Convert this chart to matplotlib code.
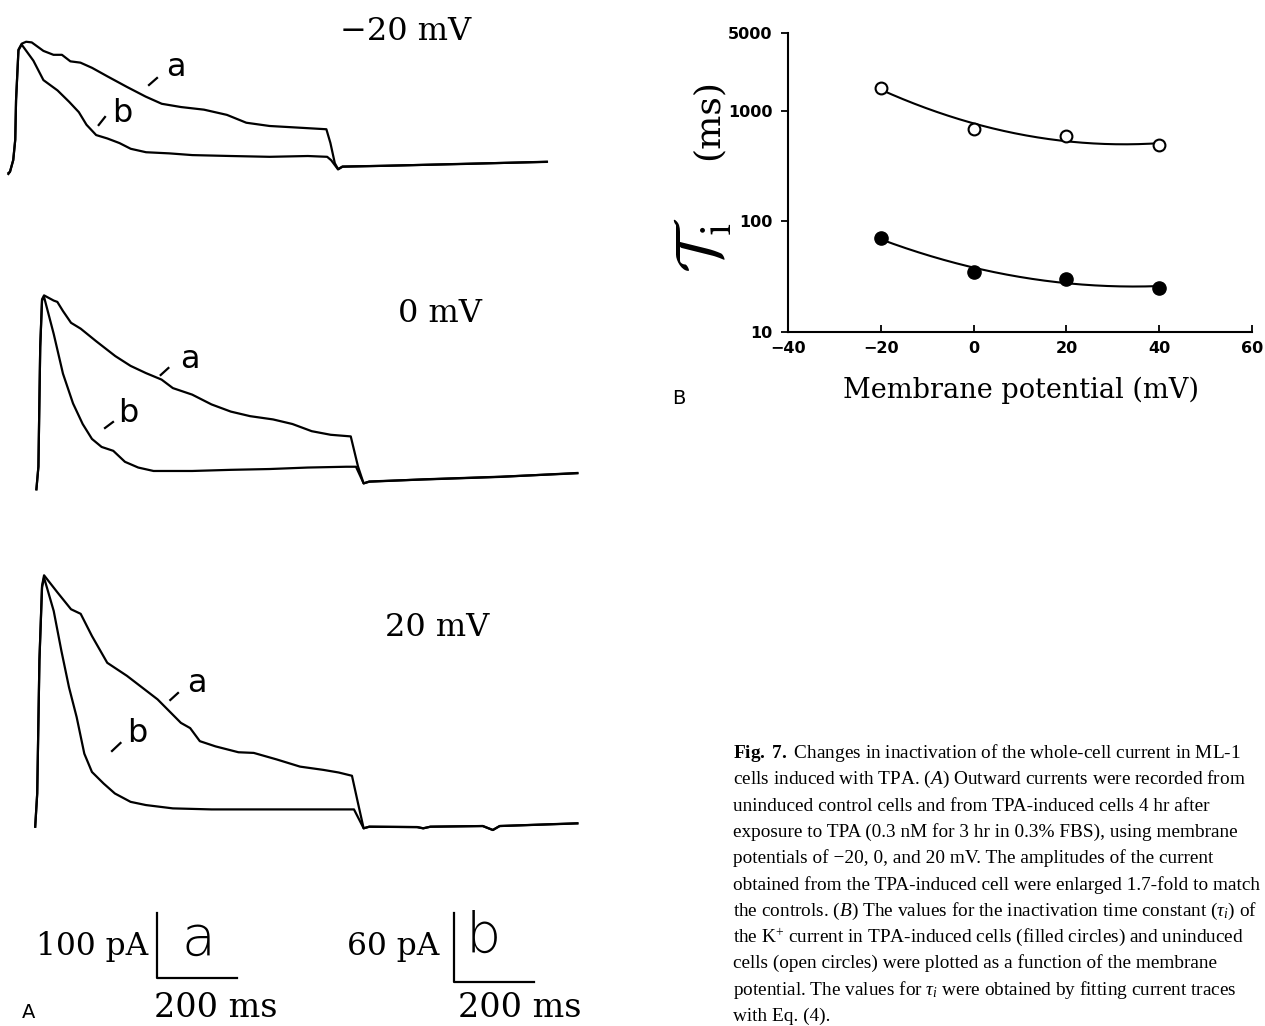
import numpy as np
import matplotlib
matplotlib.use("Agg")
import matplotlib.pyplot as plt
from matplotlib.ticker import NullLocator, FixedLocator

plt.rcParams['mathtext.fontset'] = 'custom'
plt.rcParams['mathtext.rm'] = 'Liberation Serif'
plt.rcParams['mathtext.it'] = 'Liberation Serif:italic'
plt.rcParams['mathtext.bf'] = 'Liberation Serif:bold'

# ---------------- Panel B data ----------------
membrane_potential = [-20, 0, 20, 40]          # mV
tau_uninduced = [1607, 682, 593, 488]           # ms (open circles)
tau_induced = [70.6, 34.7, 30.1, 25.1]          # ms (filled circles)
b_xticks = [-40, -20, 0, 20, 40, 60]
b_yticks = [10, 100, 1000, 5000]
b_yticklabels = ["10", "100", "1000", "5000"]

# ---------------- Panel A data (time ms, current pA) ----------------
voltage_labels = ["\u221220 mV", "0 mV", "20 mV"]

# -20 mV
t_a1 = [0, 4, 12, 17, 19, 25, 33, 44, 58, 87, 112, 133, 154, 179, 208, 246, 294, 341,
        381, 429, 486, 543, 591, 649, 706, 790, 800, 811, 819, 830, 936, 1126, 1337]
i_a1 = [-2, 0, 18, 49, 110, 187, 196, 199, 198, 185, 179, 179, 169, 167, 159, 146, 130, 115,
        104, 99, 95, 87, 75, 70, 68, 65, 44, 13, 4, 8, 9, 12, 15]
t_b1 = [0, 4, 12, 17, 19, 25, 33, 62, 87, 122, 151, 175, 194, 218, 246, 276, 304, 342,
        400, 457, 553, 649, 744, 792, 802, 819, 830, 936, 1126, 1338]
i_b1 = [-2, 0, 10, 28, 62, 106, 111, 97, 80, 71, 61, 52, 41, 32, 29, 25, 20, 17,
        16, 14.5, 13.7, 13, 13.7, 13, 10, 2, 4.3, 5.2, 6.7, 8.7]

# 0 mV
t_a2 = [0, 5, 9.5, 14, 19, 43, 52, 66, 86, 110, 148, 196, 234, 272, 311, 339, 387, 435,
        483, 531, 588, 636, 684, 731, 781, 799, 813, 827, 961, 1153, 1344]
i_a2 = [0, 35, 219, 291, 297, 289, 287, 273, 255, 246, 227, 204, 189, 178, 168, 155, 145, 130,
        119, 112, 107, 100, 89, 83.5, 81, 35, 9, 12, 15, 19, 25]
t_b2 = [0, 5, 9.5, 14, 19, 43, 66, 91, 115, 138, 162, 191, 220, 253, 291, 387, 483, 579,
        674, 770, 794, 813, 827, 961, 1153, 1344]
i_b2 = [0, 19.7, 124, 165, 168, 135.7, 101, 75, 57, 44, 37, 33.6, 24, 19, 16, 16, 17, 17.7,
        19, 19.7, 19.7, 5.2, 6.6, 8.7, 11, 14]

# 20 mV
t_a3 = [0, 5, 10.5, 17, 22, 55, 89, 113, 141, 179, 228, 266, 304, 333, 362, 385, 409, 448,
        505, 543, 600, 658, 716, 754, 787, 802, 816, 830, 949, 964, 982, 1112, 1137, 1154, 1347]
i_a3 = [0, 51, 256, 369, 385, 359, 333, 326, 292, 251, 231, 213, 195, 177, 159, 151, 131, 123,
        114, 113, 103, 92, 87, 83, 78, 36, -2.5, 0, -0.5, -2.5, 0, 1, -5, 1, 5]
t_b3 = [0, 5, 10.5, 17, 22, 46, 65, 84, 103, 122, 141, 170, 198, 237, 275, 342, 438, 582,
        725, 792, 816, 830, 949, 964, 982, 1112, 1137, 1154, 1347]
i_b3 = [0, 29, 145, 209, 217.5, 188.4, 153.7, 121.7, 95.7, 63.8, 47.8, 37.7, 29, 21.7, 18.9,
        16, 15.1, 15.1, 15.1, 15.1, -1.4, 0, -0.4, -1.4, 0, 0.6, -2.9, 0.6, 3]

scale_time_ms = 200
scale_a_pA = 100
scale_b_pA = 60

caption_lines = [
    r"$\mathbf{Fig.\ 7.}$ Changes in inactivation of the whole-cell current in ML-1",
    r"cells induced with TPA. ($\mathit{A}$) Outward currents were recorded from",
    "uninduced control cells and from TPA-induced cells 4 hr after",
    "exposure to TPA (0.3 nM for 3 hr in 0.3% FBS), using membrane",
    "potentials of \u221220, 0, and 20 mV. The amplitudes of the current",
    "obtained from the TPA-induced cell were enlarged 1.7-fold to match",
    r"the controls. ($\mathit{B}$) The values for the inactivation time constant ($\tau_i$) of",
    r"the K$^{+}$ current in TPA-induced cells (filled circles) and uninduced",
    "cells (open circles) were plotted as a function of the membrane",
    r"potential. The values for $\tau_i$ were obtained by fitting current traces",
    "with Eq. (4).",
]

# ---------------- Layout ----------------
W, H = 1265, 1026
fig = plt.figure(figsize=(W / 100, H / 100), dpi=100)


def frect(left, top, width, height):
    return [left / W, 1 - (top + height) / H, width / W, height / H]


MS_PER_PX = 200 / 80.5
PA_PER_PX_A = 100 / 65.3
PA_PER_PX_B = 60 / 68.7
LW = 1.6

trace_sets = [
    (t_a1, i_a1, t_b1, i_b1),
    (t_a2, i_a2, t_b2, i_b2),
    (t_a3, i_a3, t_b3, i_b3),
]
panel_geom = [
    dict(x0=8.4, y0=171.7, top=15, bottom=190),
    dict(x0=36.4, y0=489.3, top=280, bottom=505),
    dict(x0=35.2, y0=826.7, top=560, bottom=845),
]
LEFT_PX, RIGHT_PX = 0, 600

for (ta, ia, tb, ib), g in zip(trace_sets, panel_geom):
    ax = fig.add_axes(frect(LEFT_PX, g['top'], RIGHT_PX - LEFT_PX, g['bottom'] - g['top']))
    ax.set_xlim(-(g['x0'] - LEFT_PX) * MS_PER_PX, (RIGHT_PX - g['x0']) * MS_PER_PX)
    ax.set_ylim(-(g['bottom'] - g['y0']) * PA_PER_PX_A, (g['y0'] - g['top']) * PA_PER_PX_A)
    ax.plot(ta, ia, color='black', lw=LW, solid_joinstyle='round')
    ax.axis('off')
    axb = ax.twinx()
    axb.set_ylim(-(g['bottom'] - g['y0']) * PA_PER_PX_B, (g['y0'] - g['top']) * PA_PER_PX_B)
    axb.plot(tb, ib, color='black', lw=LW, solid_joinstyle='round')
    axb.axis('off')

# scale bars
sa = fig.add_axes(frect(156.5, 978.3 - 65.3, 80.5, 65.3))
sa.set_xlim(0, scale_time_ms)
sa.set_ylim(0, scale_a_pA)
sa.plot([0, 0, scale_time_ms], [scale_a_pA, 0, 0], color='black', lw=1.6, clip_on=False)
sa.axis('off')
sb = fig.add_axes(frect(453.5, 981.7 - 68.7, 80.4, 68.7))
sb.set_xlim(0, scale_time_ms)
sb.set_ylim(0, scale_b_pA)
sb.plot([0, 0, scale_time_ms], [scale_b_pA, 0, 0], color='black', lw=1.6, clip_on=False)
sb.axis('off')

# ---------------- Panel B ----------------
axB = fig.add_axes(frect(788, 33.3, 464, 298.4))
axB.set_yscale('log')
axB.set_xlim(-40, 60)
axB.set_ylim(10, 5000)
vv = np.linspace(min(membrane_potential), max(membrane_potential), 200)
for tau in (tau_uninduced, tau_induced):
    coef = np.polyfit(membrane_potential, np.log10(tau), 2)
    axB.plot(vv, 10 ** np.polyval(coef, vv), color='black', lw=1.5, zorder=2)
axB.plot(membrane_potential, tau_uninduced, 'o', mfc='white', mec='black', ms=8.5, mew=1.5, zorder=3)
axB.plot(membrane_potential, tau_induced, 'o', color='black', ms=9.5, zorder=3)
axB.spines['top'].set_visible(False)
axB.spines['right'].set_visible(False)
axB.spines['left'].set_linewidth(1.5)
axB.spines['bottom'].set_linewidth(1.5)
axB.set_xticks(b_xticks)
axB.yaxis.set_major_locator(FixedLocator(b_yticks))
axB.set_yticklabels(b_yticklabels)
axB.yaxis.set_minor_locator(NullLocator())
axB.tick_params(axis='y', direction='out', length=5, width=1.3, pad=6)
axB.tick_params(axis='x', direction='in', length=5, width=1.3, pad=7)
for lab in axB.get_xticklabels() + axB.get_yticklabels():
    lab.set_fontfamily('DejaVu Sans')
    lab.set_fontweight('bold')
    lab.set_fontsize(11.5)

# ---------------- overlay texts ----------------
ov = fig.add_axes([0, 0, 1, 1])
ov.set_xlim(0, W)
ov.set_ylim(H, 0)
ov.axis('off')

serif = 'DejaVu Serif'
title_pos = [(406, 31), (440, 313), (437, 627)]
for lab, (x, y) in zip(voltage_labels, title_pos):
    ov.text(x, y, lab, fontsize=23, family=serif, ha='center', va='center')

trace_labels = [
    ('a', (176, 67), (149, 85), (157, 78)),
    ('b', (122.5, 114), (98.7, 125), (105, 117)),
    ('a', (189.4, 360), (160.7, 375), (168.4, 368)),
    ('b', (128, 413), (105, 428), (113, 422)),
    ('a', (197, 684), (170.3, 700), (178, 693)),
    ('b', (137, 733), (112, 751), (120.5, 743)),
]
for lab, (x, y), p1, p2 in trace_labels:
    ov.text(x, y, lab, fontsize=23, family='DejaVu Sans', ha='center', va='center')
    ov.plot([p1[0], p2[0]], [p1[1], p2[1]], color='black', lw=1.6)

ov.text(148, 946, "100 pA", fontsize=22.5, family=serif, ha='right', va='center')
ov.text(439, 946, "60 pA", fontsize=22.5, family=serif, ha='right', va='center')
ov.text(198, 940, "a", fontsize=40, family='DejaVu Sans', fontweight='light', ha='center', va='center')
ov.text(483, 937, "b", fontsize=40, family='DejaVu Sans', fontweight='light', ha='center', va='center')
ov.text(216, 1008, "200 ms", fontsize=24, family=serif, ha='center', va='center')
ov.text(520, 1008, "200 ms", fontsize=24, family=serif, ha='center', va='center')
ov.text(29, 1012, "A", fontsize=14, family='DejaVu Sans', ha='center', va='center')
ov.text(679, 398, "B", fontsize=14, family='DejaVu Sans', ha='center', va='center')

ov.text(1021, 390, "Membrane potential (mV)", fontsize=19.5, family=serif, ha='center', va='center')
ov.text(703, 245, r"$\mathcal{T}_{\mathrm{i}}$", fontsize=46, rotation=90, ha='center', va='center',
        math_fontfamily='cm')
ov.text(708, 120, "(ms)", fontsize=26, family=serif, rotation=90, ha='center', va='center')

for k, line in enumerate(caption_lines):
    ov.text(733, 758 + 26.3 * k, line, fontsize=13.9, family='Liberation Serif', ha='left', va='baseline')

fig.savefig("out.png", dpi=100)
